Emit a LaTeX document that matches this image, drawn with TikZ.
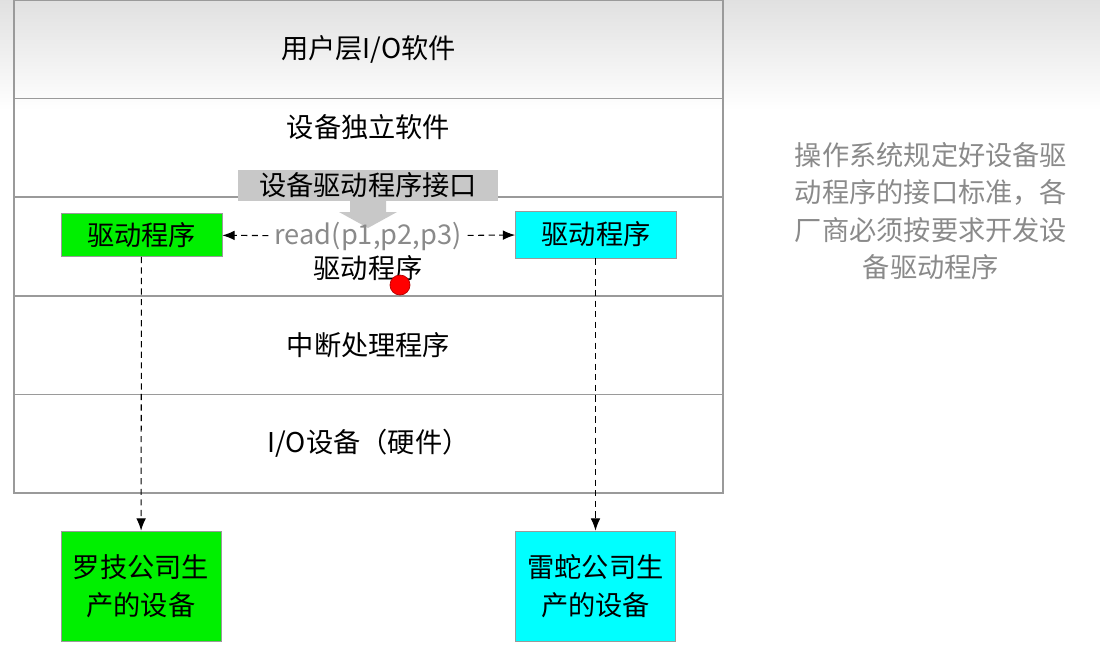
\documentclass[tikz,border=0pt]{standalone}
\usepackage{fontspec}
\setmainfont{Noto Sans CJK SC}
\usetikzlibrary{arrows.meta}
\definecolor{linegray}{HTML}{9A9A9A}
\definecolor{txtgray}{HTML}{8A8A8A}
\definecolor{boxgray}{HTML}{C8C8C8}
\definecolor{devgreen}{HTML}{00F000}
\definecolor{devcyan}{HTML}{00FFFF}
\begin{document}
\begin{tikzpicture}[x=0.02cm,y=-0.02cm,
    font=\fontsize{15.5}{21.4}\selectfont,
    layer/.style={draw=linegray,line width=0.8pt,rectangle,minimum width=14.18cm,minimum height=1.972cm,inner sep=0pt},
    drv/.style={draw=linegray,rectangle,minimum width=3.22cm,minimum height=0.86cm,inner sep=0pt},
    dev/.style={draw=linegray,rectangle,minimum width=3.2cm,minimum height=2.2cm,inner sep=0pt,align=center},
    call/.style={dash pattern=on 3.5pt off 2.5pt,-{Latex[length=7pt,width=5.5pt]},semithick}]
    \useasboundingbox (0,0) rectangle (1100,654);
    \shade[top color=black!12,bottom color=white] (0,0) rectangle (1100,110);
    % layers
    \node[layer] (user) at (368.5,49.3) {用户层I/O软件};
    \node[layer] (indep) at (368.5,147.9) {};
    \node at (368.5,127) {设备独立软件};
    \node[layer] (drvlayer) at (368.5,246.5) {};
    \node[layer] (irq) at (368.5,345.1) {中断处理程序};
    \node[layer] (hw) at (368.5,443.7) {I/O设备（硬件）};
    % interface
    \fill[boxgray] (350,198) -- (386,198) -- (386,212) -- (397,212) -- (368,228) -- (339,212) -- (350,212) -- cycle;
    \node[fill=boxgray,minimum width=5.2cm,minimum height=0.62cm,inner sep=0pt] (iface) at (368,185) {设备驱动程序接口};
    \node[txtgray] (read) at (368,236) {read(p1,p2,p3)};
    \node (drvname) at (368,268) {驱动程序};
    \fill[red,draw=red!70!black] (400,285) circle (0.2cm);
    % drivers
    \node[drv,fill=devgreen] (logidrv) at (141.5,235) {驱动程序};
    \node[drv,fill=devcyan,minimum height=0.94cm] (razerdrv) at (596,234.5) {驱动程序};
    \draw[call] (read) -- (logidrv);
    \draw[call] (read) -- (razerdrv);
    % devices
    \node[dev,fill=devgreen] (logi) at (141,586) {罗技公司生\\产的设备};
    \node[dev,fill=devcyan] (razer) at (595.5,586) {雷蛇公司生\\产的设备};
    \draw[call] (logidrv) -- (logi);
    \draw[call] (razerdrv.south -| razer.north) -- (razer);
    % note
    \node[txtgray,align=center] (note) at (931,211) {操作系统规定好设备驱\\动程序的接口标准，各\\厂商必须按要求开发设\\备驱动程序};
\end{tikzpicture}
\end{document}
